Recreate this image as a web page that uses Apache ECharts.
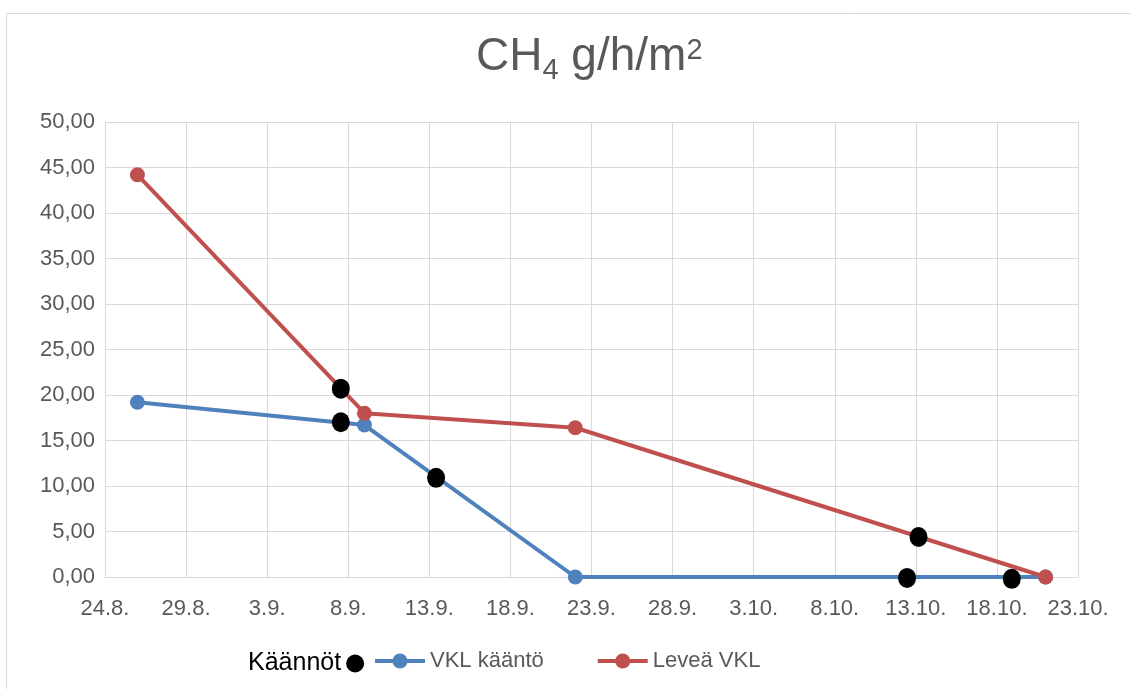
<!DOCTYPE html>
<html><head><meta charset="utf-8">
<script src="https://cdn.jsdelivr.net/npm/echarts@6/dist/echarts.min.js"></script>
<style>html,body{margin:0;padding:0;background:#fff}#c{width:1131px;height:689px}</style>
</head><body><div id="c"></div>
<script>
// ---- data ----
const baseDate = '2021-08-24';          // first x tick (24.8.)
const xTickDays = 5;                     // tick step in days
const xSpanDays = 60;                    // 24.8. -> 23.10.
const yMin = 0, yMax = 50, yStep = 5;

const lineDates  = ['2021-08-26', '2021-09-09', '2021-09-22', '2021-10-21'];
const vklKaanto  = [19.2, 16.7, 0, 0];
const leveaVkl   = [44.2, 18.0, 16.4, 0];

const kaannotDates = ['2021-09-07T13:00', '2021-09-07T13:00', '2021-09-13T10:00',
                      '2021-10-12T11:00', '2021-10-13T04:00', '2021-10-18T22:00'];
const kaannot      = [20.7, 17.0, 10.9, -0.1, 4.4, -0.2];

const seriesNames = ['Käännöt', 'VKL kääntö', 'Leveä VKL'];

// ---- helpers ----
const DAY = 86400000;
function toUTC(s) { return Date.parse(s.length === 10 ? s + 'T00:00Z' : s + 'Z'); }
const base = toUTC(baseDate);
function dayOffset(s) { return (toUTC(s) - base) / DAY; }
function dayLabel(v) {
  const d = new Date(base + Math.round(v) * DAY);
  return d.getUTCDate() + '.' + (d.getUTCMonth() + 1) + '.';
}
const pairs = (dates, vals) => dates.map((d, i) => [dayOffset(d), vals[i]]);

const font = 'Liberation Sans, Arial, sans-serif';
const chart = echarts.init(document.getElementById('c'), null, { renderer: 'canvas' });
chart.setOption({
  backgroundColor: '#fff',
  animation: false,
  textStyle: { fontFamily: font },
  graphic: [{
    type: 'rect', silent: true, z: -10,
    shape: { x: 6.5, y: 13.5, width: 1300, height: 900 },
    style: { fill: 'none', stroke: '#d9d9d9', lineWidth: 1 }
  }],
  title: {
    text: '{m|CH}{sub|4}{m| g/h/m}{sup|2}',
    left: 471, top: 24,
    textStyle: {
      fontWeight: 'normal',
      rich: {
        m:   { fontSize: 46, lineHeight: 56, color: '#595959', fontFamily: font, fontWeight: 'normal' },
        sub: { fontSize: 29, lineHeight: 20, verticalAlign: 'bottom', color: '#595959', fontFamily: font, fontWeight: 'normal' },
        sup: { fontSize: 29, verticalAlign: 'top', padding: [7, 0, 0, 0], color: '#595959', fontFamily: font, fontWeight: 'normal' }
      }
    }
  },
  grid: { left: 105, right: 53, top: 122, bottom: 112, containLabel: false },
  xAxis: {
    type: 'value', min: 0, max: xSpanDays, interval: xTickDays,
    axisLine: { show: true, lineStyle: { color: '#d9d9d9', width: 1 } },
    axisTick: { show: false },
    splitLine: { show: true, lineStyle: { color: '#d9d9d9', width: 1 } },
    axisLabel: { formatter: dayLabel, color: '#595959', fontSize: 22, margin: 21, fontFamily: font }
  },
  yAxis: {
    type: 'value', min: yMin, max: yMax, interval: yStep,
    axisLine: { show: false },
    axisTick: { show: false },
    splitLine: { show: true, lineStyle: { color: '#d9d9d9', width: 1 } },
    axisLabel: {
      formatter: v => v.toFixed(2).replace('.', ','),
      color: '#595959', fontSize: 22, margin: 10, fontFamily: font
    }
  },
  legend: [{
    data: [seriesNames[0]], left: 243, top: 646, align: 'right',
    itemWidth: 18, itemHeight: 20, icon: 'circle',
    itemStyle: { opacity: 1 },
    textStyle: { color: '#000', fontSize: 25, fontFamily: font }
  }, {
    data: [seriesNames[1], seriesNames[2]], left: 368, top: 645,
    itemWidth: 50, itemHeight: 19, itemGap: 52,
    lineStyle: { width: 4 },
    textStyle: { color: '#595959', fontSize: 22, fontFamily: font }
  }],
  series: [{
    name: seriesNames[0], type: 'scatter', z: 5, clip: false,
    symbol: 'circle', symbolSize: [18, 20],
    itemStyle: { color: '#000', opacity: 1 },
    data: pairs(kaannotDates, kaannot)
  }, {
    name: seriesNames[1], type: 'line', z: 3,
    symbol: 'circle', symbolSize: 15, showAllSymbol: true,
    lineStyle: { color: '#4f81bd', width: 4 },
    itemStyle: { color: '#4f81bd' },
    data: pairs(lineDates, vklKaanto)
  }, {
    name: seriesNames[2], type: 'line', z: 3,
    symbol: 'circle', symbolSize: 15, showAllSymbol: true,
    lineStyle: { color: '#c0504d', width: 4 },
    itemStyle: { color: '#c0504d' },
    data: pairs(lineDates, leveaVkl)
  }]
});
</script></body></html>
